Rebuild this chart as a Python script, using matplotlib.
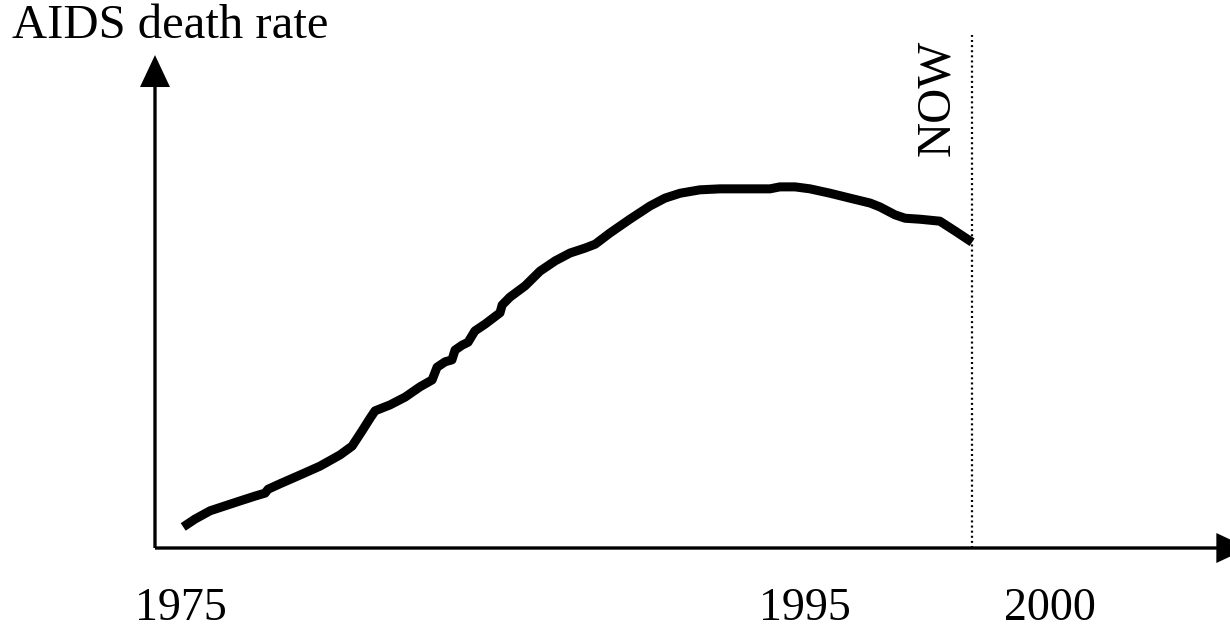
# Schematic AIDS death rate curve with hand-drawn style axes
import matplotlib.pyplot as plt

plt.rcParams['font.family'] = ['Liberation Serif', 'DejaVu Serif']

# curve (year, rate in arbitrary units)
years = [1974.94, 1975.32, 1975.81, 1976.29, 1976.77, 1977.26, 1977.58, 1977.68,
         1978.06, 1978.71, 1979.35, 1980.00, 1980.39, 1980.71, 1980.97, 1981.13,
         1981.61, 1982.10, 1982.58, 1982.97, 1983.13, 1983.39, 1983.61, 1983.71,
         1983.94, 1984.13, 1984.35, 1984.68, 1985.16, 1985.23, 1985.48, 1985.97,
         1986.45, 1986.94, 1987.42, 1987.90, 1988.23, 1988.71, 1989.35, 1990.00,
         1990.48, 1990.97, 1991.61, 1992.26, 1993.06, 1993.87, 1994.19, 1994.68,
         1995.16, 1995.81, 1996.45, 1997.10, 1997.42, 1997.90, 1998.23, 1998.71,
         1999.35, 1999.84, 2000.39]
rate = [4.3, 5.9, 7.6, 8.6, 9.6, 10.6, 11.2, 12.0,
        13.1, 14.9, 16.7, 19.0, 20.8, 23.9, 26.5, 28.0,
        29.2, 30.8, 32.9, 34.3, 36.9, 38.0, 38.4, 40.4,
        41.4, 42.0, 44.3, 45.7, 48.0, 49.6, 51.2, 53.5,
        56.5, 58.6, 60.2, 61.2, 62.0, 64.3, 67.1, 69.8,
        71.4, 72.4, 73.1, 73.3, 73.3, 73.3, 73.7, 73.7,
        73.3, 72.4, 71.4, 70.4, 69.6, 68.0, 67.3, 67.1,
        66.7, 64.7, 62.4]

now_year = 2000.39
tick_labels = ['1975', '1995', '2000']
tick_pos = [1974.85, 1995.0, 2002.9]   # labels are not to scale in the original

fig = plt.figure(figsize=(12.3, 6.34), dpi=100)
ax = fig.add_axes([0, 0, 1, 1])
ax.set_xlim(1969.03, 2008.71)
ax.set_ylim(-17.55, 111.84)
ax.axis('off')

# axes with arrow heads
arrow = dict(width=2.4, headwidth=21.6, headlength=23, facecolor='black',
             edgecolor='black', lw=0)
ax.annotate('', xy=(1974.03, 100.6), xytext=(1974.03, 0), arrowprops=arrow,
            annotation_clip=False)
ax.annotate('', xy=(2009.3, 0), xytext=(1974.03, 0), arrowprops=arrow,
            annotation_clip=False)

ax.plot(years, rate, color='black', lw=6.5, solid_capstyle='butt',
        solid_joinstyle='round')

# NOW marker
ax.plot([now_year, now_year], [0, 104.7], color='black', lw=1.6,
        ls=(0, (0.9, 1.4)))
ax.text(1999.25, 91.8, 'NOW', rotation=90, ha='center', va='center', fontsize=35)

for pos, lab in zip(tick_pos, tick_labels):
    ax.text(pos, -14.7, lab, ha='center', va='baseline', fontsize=33)

fig.text(12 / 1230, 1 - 38 / 634, 'AIDS death rate', ha='left', va='baseline',
         fontsize=35)

plt.savefig('out.png', dpi=100)
